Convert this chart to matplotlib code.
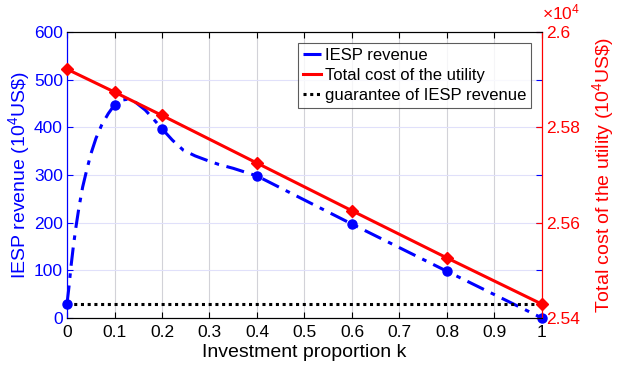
import matplotlib
matplotlib.use("Agg")
import matplotlib.pyplot as plt
from matplotlib.lines import Line2D
from matplotlib.ticker import FuncFormatter

plt.rcParams['font.family'] = ['Liberation Sans', 'DejaVu Sans']
plt.rcParams['mathtext.fontset'] = 'custom'
plt.rcParams['mathtext.rm'] = 'Liberation Sans'
plt.rcParams['mathtext.it'] = 'Liberation Sans:italic'

# Marker data
k_points = [0, 0.1, 0.2, 0.4, 0.6, 0.8, 1.0]
iesp_revenue = [30, 447, 397, 298, 197, 98, 0]
total_cost = [25922, 25874, 25825, 25725, 25625, 25526, 25429]

# IESP revenue curve
k_curve = [0, 0.0042, 0.0084, 0.0133, 0.019, 0.0253, 0.033, 0.0414, 0.0505, 0.061,
           0.073, 0.087, 0.1, 0.115, 0.128, 0.145, 0.165, 0.185, 0.2, 0.222, 0.245,
           0.27, 0.294, 0.32, 0.35, 0.375, 0.4, 0.6, 0.8, 1.0]
rev_curve = [30, 66, 108, 150, 192, 233, 275, 310, 345, 377,
             405, 429, 447, 457, 459, 452, 436, 414, 397, 373, 352,
             340, 331, 322, 314, 306, 298, 197, 98, 0]

guarantee = 30

BLUE = '#0000ff'
RED = '#ff0000'
DASHDOT = (0, (6, 2.5, 1.5, 2.5))

fig = plt.figure(figsize=(6.17, 3.69), dpi=100)
ax = fig.add_axes([0.1086, 0.1382, 0.7698, 0.7751])
ax2 = ax.twinx()

ax.set_zorder(1)
ax2.set_zorder(2)
ax2.patch.set_visible(False)

# Grid
ax.set_xticks([i / 10 for i in range(11)])
ax.xaxis.grid(True, color='#d2d2d8', linewidth=0.8)
ax.yaxis.grid(True, color='#e0e0fa', linewidth=0.8)
ax.set_axisbelow(True)

# Blue curve
ax.plot(k_curve, rev_curve, color=BLUE, linewidth=2.2, linestyle=DASHDOT,
        clip_on=False, zorder=3)
ax.plot(k_points, iesp_revenue, linestyle='none', marker='o', markersize=6.5,
        color=BLUE, clip_on=False, zorder=4)
# Guarantee
ax.plot([0, 1], [guarantee, guarantee], color='black', linestyle=(0, (1, 1.2)),
        linewidth=2.2, zorder=3)

# Red line
ax2.plot(k_points, total_cost, color=RED, linewidth=2.2, marker='D', markersize=6.5,
         clip_on=False, zorder=5)

ax.set_xlim(0, 1)
ax.set_ylim(0, 600)
ax.set_yticks(range(0, 601, 100))
ax2.set_ylim(25400, 26000)
ax2.set_yticks([25400, 25600, 25800, 26000])
ax2.yaxis.set_major_formatter(FuncFormatter(lambda v, p: '%g' % (v / 1e4)))

ax.set_xticklabels(['0', '0.1', '0.2', '0.3', '0.4', '0.5', '0.6', '0.7', '0.8', '0.9', '1'])

TS = 12.5
ax.tick_params(axis='x', direction='in', length=4, labelsize=TS, colors='black',
               top=True, pad=5)
ax.tick_params(axis='y', direction='in', length=4, labelsize=TS, colors=BLUE,
               right=True, pad=3)
ax2.tick_params(axis='y', direction='in', length=4, labelsize=TS, colors=RED, pad=3)

for s in ['top', 'bottom']:
    ax.spines[s].set_color('black')
ax.spines['left'].set_color(BLUE)
ax2.spines['left'].set_color(BLUE)
ax2.spines['right'].set_color(RED)
ax.spines['right'].set_color(RED)
for a in (ax, ax2):
    for s in a.spines.values():
        s.set_linewidth(0.8)

LS = 14
ax.set_xlabel('Investment proportion k', fontsize=LS, labelpad=3)
ax.set_ylabel(r'IESP revenue (10$^4$US\$)', fontsize=LS, color=BLUE, labelpad=1)
ax2.set_ylabel(r'Total cost of the utility (10$^4$US\$)', fontsize=LS, color=RED, labelpad=7)

ax2.text(1.0, 1.035, r'$\times$10$^4$', transform=ax2.transAxes, color=RED,
         fontsize=TS, ha='left', va='bottom')

handles = [
    Line2D([], [], color=BLUE, linewidth=2.2, linestyle=DASHDOT),
    Line2D([], [], color=RED, linewidth=2.2),
    Line2D([], [], color='black', linewidth=2.2, linestyle=(0, (1, 1.2))),
]
labels = ['IESP revenue', 'Total cost of the utility', 'guarantee of IESP revenue']
leg = ax2.legend(handles, labels, loc='upper right', bbox_to_anchor=(0.977, 0.962),
                 fontsize=12, frameon=True, fancybox=False, handlelength=1.1,
                 handletextpad=0.2, labelspacing=0.3, borderpad=0.3, borderaxespad=0)
leg.get_frame().set_edgecolor('#333333')
leg.get_frame().set_linewidth(0.8)

fig.savefig('out.png', dpi=100)
